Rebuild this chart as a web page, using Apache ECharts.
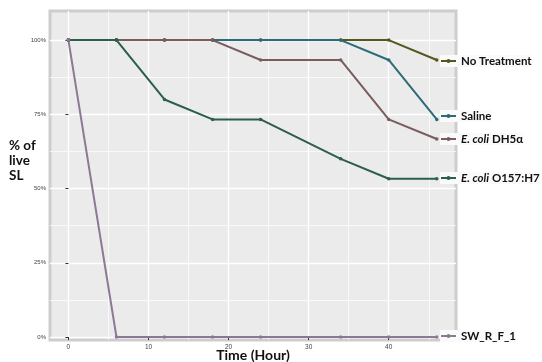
<!DOCTYPE html>
<html>
<head>
<meta charset="utf-8">
<script src="https://cdn.jsdelivr.net/npm/echarts@6/dist/echarts.min.js"></script>
<style>
html, body { margin: 0; padding: 0; background: #fff; }
#chart { width: 542px; height: 362px; }
</style>
</head>
<body>
<div id="chart"></div>
<script>
// hours after treatment
const hours = [0, 6, 12, 18, 24, 34, 40, 46]
// % of live SL per group
const noTreatment = [100, 100, 100, 100, 100, 100, 100, 93.3]
const saline = [100, 100, 100, 100, 100, 100, 93.3, 73.3]
const dh5a = [100, 100, 100, 100, 93.3, 93.3, 73.3, 66.7]
const o157 = [100, 100, 80, 73.3, 73.3, 60, 53.3, 53.3]
const swRF1 = [100, 0, 0, 0, 0, 0, 0, 0]

const xTicks = [0, 10, 20, 30, 40]
const xMinor = [5, 15, 25, 35, 45]
const yTicks = [0, 25, 50, 75, 100]
const yMinor = [12.5, 37.5, 62.5, 87.5]

const font = 'Lato'

function pairs(values) {
  return hours.map((h, i) => [h, values[i]])
}

function lineSeries(name, values, color) {
  return {
    name: name,
    type: 'line',
    data: pairs(values),
    symbol: 'circle',
    symbolSize: 3.5,
    color: color,
    lineStyle: { width: 2, color: color },
    itemStyle: { color: color },
    emphasis: { disabled: true }
  }
}

function legendAt(name, top) {
  return {
    data: [name],
    left: 440,
    top: top,
    padding: 0,
    itemWidth: 15,
    itemHeight: 5,
    selectedMode: false,
    backgroundColor: '#fafafa',
    formatter: function (n) {
      if (n.indexOf('E. coli') === 0) {
        return '{i|E. coli}' + n.slice(7)
      }
      return n
    },
    textStyle: {
      fontFamily: font,
      fontWeight: 'bold',
      fontSize: 11.5,
      color: '#111',
      rich: {
        i: { fontFamily: font, fontWeight: 'bold', fontStyle: 'italic', fontSize: 11.5, color: '#111' }
      }
    }
  }
}

const chart = echarts.init(document.getElementById('chart'))
const option = {
  animation: false,
  title: {
    text: '% of\nlive\nSL',
    left: 9,
    top: 138,
    padding: 0,
    textStyle: { fontFamily: font, fontWeight: 'bold', fontSize: 13.5, lineHeight: 15, color: '#111' }
  },
  legend: [
    legendAt('No Treatment', 55),
    legendAt('Saline', 110),
    legendAt('E. coli DH5α', 133),
    legendAt('E. coli O157:H7', 172),
    legendAt('SW_R_F_1', 330)
  ],
  grid: {
    left: 50,
    top: 11,
    right: 86,
    bottom: 22,
    outerBoundsMode: 'none',
    show: true,
    backgroundColor: '#ebebeb',
    borderColor: '#cdcdcd',
    borderWidth: 3
  },
  xAxis: [
    {
      type: 'value',
      min: -2.3,
      max: 48.4,
      name: 'Time (Hour)',
      nameLocation: 'middle',
      nameGap: 8,
      nameMoveOverlap: false,
      nameTextStyle: { fontFamily: font, fontWeight: 'bold', fontSize: 14, color: '#111' },
      axisLine: { show: false },
      axisTick: { customValues: xTicks, length: 3, lineStyle: { color: '#333' } },
      axisLabel: { customValues: xTicks, fontSize: 6.5, color: '#444', margin: 4 },
      splitLine: { lineStyle: { color: '#fff', width: 1.4 } }
    },
    {
      type: 'value',
      min: -2.3,
      max: 48.4,
      position: 'bottom',
      axisLine: { show: false },
      axisTick: { show: false, customValues: xMinor },
      axisLabel: { show: false, customValues: xMinor },
      splitLine: { lineStyle: { color: '#fff', width: 0.7 } }
    }
  ],
  yAxis: [
    {
      type: 'value',
      min: -1,
      max: 109.8,
      axisLine: { show: false },
      axisTick: { customValues: yTicks, length: 3, lineStyle: { color: '#333' } },
      axisLabel: { customValues: yTicks, formatter: '{value}%', fontSize: 6, color: '#444', margin: 4 },
      splitLine: { lineStyle: { color: '#fff', width: 1.4 } }
    },
    {
      type: 'value',
      min: -1,
      max: 109.8,
      position: 'left',
      axisLine: { show: false },
      axisTick: { show: false, customValues: yMinor },
      axisLabel: { show: false, customValues: yMinor },
      splitLine: { lineStyle: { color: '#fff', width: 0.7 } }
    }
  ],
  series: [
    lineSeries('No Treatment', noTreatment, '#56561f'),
    lineSeries('Saline', saline, '#2e6b78'),
    lineSeries('E. coli DH5α', dh5a, '#7b5c5c'),
    lineSeries('E. coli O157:H7', o157, '#2b5e4b'),
    lineSeries('SW_R_F_1', swRF1, '#8d7896')
  ]
}
chart.setOption(option)
</script>
</body>
</html>
